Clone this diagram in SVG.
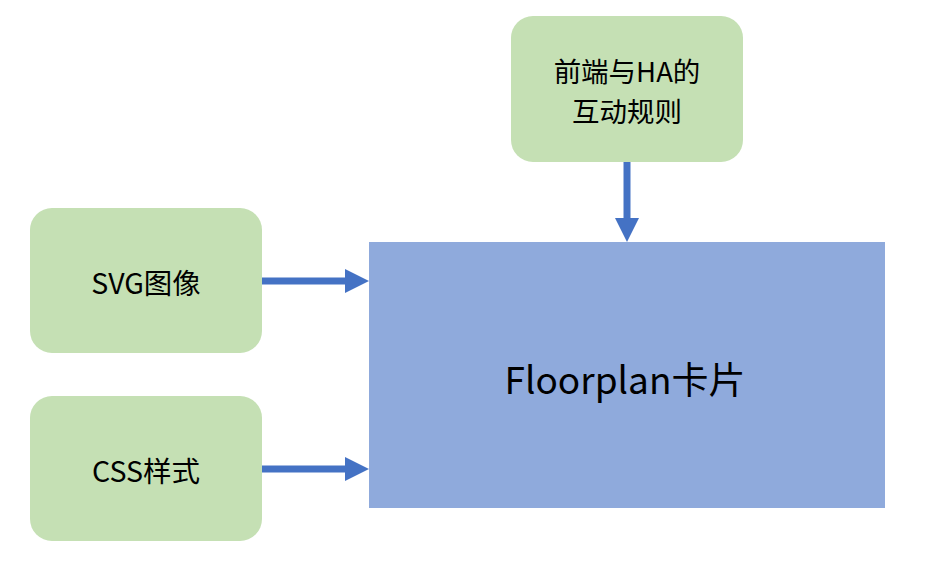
<svg xmlns="http://www.w3.org/2000/svg" width="926" height="561" viewBox="0 0 926 561">
<defs>
<style>
.src{fill:#C5E0B4;}
.lbl{font-family:"Noto Sans CJK SC","Noto Sans",sans-serif;font-size:28.5px;fill:#000;text-anchor:middle;dominant-baseline:central;}
.two{font-size:27.5px;}
.big{font-size:37px;}
.conn{stroke:#4472C4;stroke-width:7;fill:none;}
.head{fill:#4472C4;}
</style>
</defs>
<rect width="926" height="561" fill="#fff"/>
<g id="card">
<rect x="369" y="242" width="516" height="266" fill="#8FAADC"/>
<text class="lbl big" x="625" y="378">Floorplan卡片</text>
</g>
<g id="svgimg">
<rect class="src" x="30" y="208" width="232" height="145" rx="22"/>
<text class="lbl" x="146" y="281">SVG图像</text>
</g>
<g id="css">
<rect class="src" x="30" y="396" width="232" height="145" rx="22"/>
<text class="lbl" x="146" y="469">CSS样式</text>
</g>
<g id="rules">
<rect class="src" x="511" y="16" width="232" height="146" rx="22"/>
<text class="lbl two" x="627" y="70">前端与HA的</text>
<text class="lbl two" x="627" y="110">互动规则</text>
</g>
<g id="connectors">
<line class="conn" x1="262" y1="281" x2="346" y2="281"/>
<polygon class="head" points="345,269 369,281 345,293"/>
<line class="conn" x1="262" y1="469" x2="346" y2="469"/>
<polygon class="head" points="345,457 369,469 345,481"/>
<line class="conn" x1="627" y1="162" x2="627" y2="219"/>
<polygon class="head" points="615,218 627,242 639,218"/>
</g>
</svg>
